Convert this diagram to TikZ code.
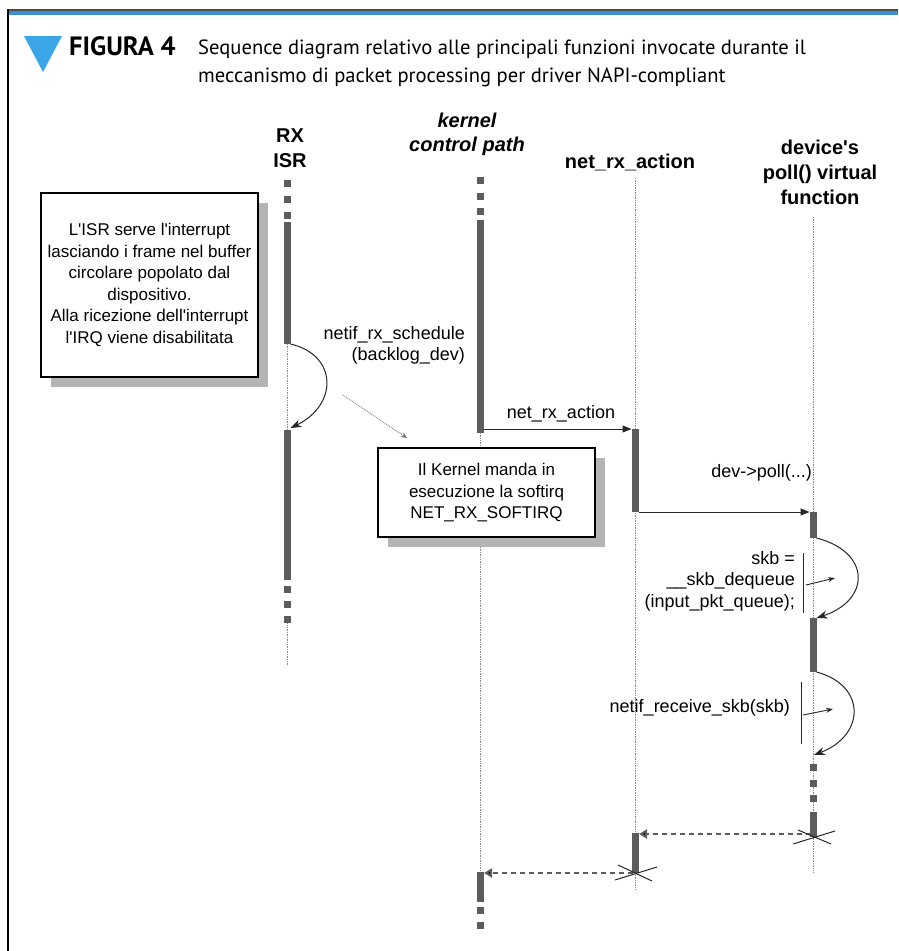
\documentclass[tikz,border=0pt]{standalone}
\usepackage{fontspec}
\setmainfont{Liberation Sans}
\newfontfamily\capfont{PT Sans}
\usetikzlibrary{arrows.meta}
\definecolor{barc}{HTML}{5C5C5C}
\definecolor{lifec}{HTML}{8A8A8A}
\definecolor{shadc}{HTML}{B4B4B4}
\definecolor{bandc}{HTML}{3A8FD2}
\definecolor{tric}{HTML}{3AA6E8}
\newcommand{\sq}{\textquotesingle}
\begin{document}
\begin{tikzpicture}[x=1pt,y=-1pt,
  lifeline/.style={draw=lifec, densely dotted, line width=0.7pt},
  head/.style={font=\fontsize{20}{25}\selectfont\bfseries, align=center, inner sep=0pt},
  lbl/.style={font=\fontsize{18}{21.5}\selectfont, align=right, inner sep=0pt},
  boxtxt/.style={font=\fontsize{17}{21.5}\selectfont, align=center, inner sep=0pt},
  notebox/.style={draw=black, line width=1.2pt, fill=white},
  msg/.style={draw=black!85, line width=1pt, -{Triangle[length=9pt,width=7pt]}},
  selfcall/.style={draw=black!85, line width=1pt, -{Stealth[length=11pt,width=8pt]}},
  smallarr/.style={draw=black!85, line width=0.9pt, -{Stealth[length=7pt,width=5pt]}},
  ret/.style={draw=barc, line width=2.2pt, dash pattern=on 5pt off 4pt, -{Triangle[length=8pt,width=9pt,fill=black]}},
  xline/.style={draw=black!85, line width=1pt},
  hint/.style={draw=black!55, densely dotted, line width=0.8pt, -{Stealth[length=6pt,width=5pt]}}
]
\useasboundingbox (0,0) rectangle (898,951);
\fill[white] (0,0) rectangle (898,951);

% ---- header band and frame ----
\fill[black!70] (8,9) rectangle (898,10.5);
\fill[bandc] (8,10.5) rectangle (898,15);
\draw[black, line width=1.8pt] (8,9) -- (8,951);
\fill[tric] (24,36) -- (62,36) -- (43,72) -- cycle;
\node[anchor=base west, inner sep=0pt, font=\capfont\fontsize{26.5}{28}\selectfont\bfseries] (fig) at (69,55) {FIGURA 4};
\node[anchor=base west, inner sep=0pt, font=\capfont\fontsize{20.6}{28}\selectfont] (cap1) at (198,54) {Sequence diagram relativo alle principali funzioni invocate durante il};
\node[anchor=base west, inner sep=0pt, font=\capfont\fontsize{20.6}{28}\selectfont] (cap2) at (198,82) {meccanismo di packet processing per driver NAPI-compliant};

% ---- headings ----
\node[head] (hrx) at (290,148) {RX\\ISR};
\node[head, font=\fontsize{20}{24}\selectfont\bfseries\itshape] (hk) at (467,134) {kernel\\control path};
\node[head] (hn) at (630,162) {net\_rx\_action};
\node[head] (hd) at (820,172) {device\sq s\\poll() virtual\\function};

% ---- lifelines (dotted) ----
\draw[lifeline] (287,344) -- (287,430);
\draw[lifeline] (287,620) -- (287,665);
\draw[lifeline] (480,433) -- (480,872);
\draw[lifeline] (635,178) -- (635,890);
\draw[lifeline] (813,217) -- (813,872);

% ---- note boxes ----
\fill[shadc] (51,203) rectangle (268,387);
\node[notebox, minimum width=217pt, minimum height=184pt, inner sep=0pt] (note1) at (149.5,285) {};
\node[boxtxt] (note1t) at (149.5,285) {L\sq ISR serve l\sq interrupt\\lasciando i frame nel buffer\\circolare popolato dal\\dispositivo.\\Alla ricezione dell\sq interrupt\\l\sq IRQ viene disabilitata};

\fill[shadc] (388,458) rectangle (605,547);
\node[notebox, minimum width=217pt, minimum height=89pt, inner sep=0pt] (note2) at (486.5,492.5) {};
\node[boxtxt] (note2t) at (486.5,493) {Il Kernel manda in\\esecuzione la softirq\\NET\_RX\_SOFTIRQ};

% ---- activation bars and squares ----
% RX ISR
\foreach \y in {180,196,212} \fill[barc] (283.5,\y) rectangle ++(7,7);
\fill[barc] (283.5,222) rectangle (290.5,344);
\fill[barc] (283.5,430) rectangle (290.5,580);
\foreach \y in {586,601,616} \fill[barc] (283.5,\y) rectangle ++(7,7);
% kernel control path
\foreach \y in {177,193,208} \fill[barc] (476.5,\y) rectangle ++(7,7);
\fill[barc] (476.5,220) rectangle (483.5,433);
\fill[barc] (476.5,872) rectangle (483.5,902);
\foreach \y in {907,922} \fill[barc] (476.5,\y) rectangle ++(7,7);
% net_rx_action
\fill[barc] (631.5,429) rectangle (638.5,512);
\fill[barc] (631.5,833) rectangle (638.5,873);
% device poll
\fill[barc] (809.5,512) rectangle (816.5,538);
\fill[barc] (809.5,618) rectangle (816.5,672);
\foreach \y in {764,780,795} \fill[barc] (809.5,\y) rectangle ++(7,7);
\fill[barc] (809.5,812) rectangle (816.5,837);

% ---- anchor coordinates ----
\coordinate (rxA) at (290.5,344);
\coordinate (rxB) at (290.5,428);
\coordinate (kA) at (483.5,429);
\coordinate (nA) at (631.5,429);
\coordinate (nB) at (638.5,512);
\coordinate (dA) at (809.5,512);
\coordinate (d1s) at (816.5,538);
\coordinate (d1e) at (816.5,618);
\coordinate (d2s) at (816.5,672);
\coordinate (d2e) at (814,755);
\coordinate (dR) at (811,834);
\coordinate (nR) at (639,834);
\coordinate (nR2) at (633,873);
\coordinate (kR) at (484,873);
\coordinate (hs) at (343,395);
\coordinate (he) at (407,438);

% ---- messages ----
\draw[selfcall] (rxA) .. controls (338,355) and (338,405) .. (rxB);
\node[lbl, anchor=north east] (l1) at (465,326) {netif\_rx\_schedule\\(backlog\_dev)};
\draw[hint] (hs) -- (he);

\draw[msg] (kA) -- (nA);
\node[lbl, anchor=south] (l2) at (561,422) {net\_rx\_action};

\draw[msg] (nB) -- (dA);
\node[lbl, anchor=east] (l3) at (812,473) {dev->poll(...)};

\draw[selfcall] (d1s) .. controls (871,552) and (871,600) .. (d1e);
\draw[black!85, line width=1pt] (803,553) coordinate (v1a) -- (803,613) coordinate (v1b);
\coordinate (s1a) at (806,585);
\coordinate (s1b) at (835,578);
\draw[smallarr] (s1a) -- (s1b);
\node[lbl, anchor=east] (l4) at (795,581) {skb =\\\_\_skb\_dequeue\\(input\_pkt\_queue);};

\draw[selfcall] (d2s) .. controls (866,685) and (866,735) .. (d2e);
\draw[black!85, line width=1pt] (801,682) coordinate (v2a) -- (801,744) coordinate (v2b);
\coordinate (s2a) at (803,715);
\coordinate (s2b) at (833,709);
\draw[smallarr] (s2a) -- (s2b);
\node[lbl, anchor=east] (l5) at (790,708) {netif\_receive\_skb(skb)};

% ---- returns ----
\draw[ret] (dR) -- (nR);
\draw[xline] (793,844) -- (835,831);
\draw[xline] (798,830) -- (831,844);

\draw[ret] (nR2) -- (kR);
\draw[xline] (615,880) -- (657,867);
\draw[xline] (618,865) -- (652,881);
\end{tikzpicture}
\end{document}
